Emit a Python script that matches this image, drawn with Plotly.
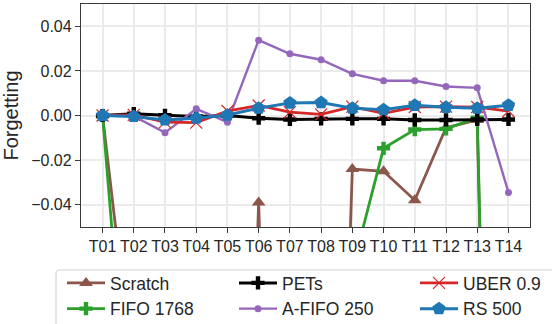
import plotly.graph_objects as go

tasks = ["T01", "T02", "T03", "T04", "T05", "T06", "T07", "T08", "T09", "T10", "T11", "T12", "T13", "T14"]

scratch = [0.0, -0.12, -0.40, -0.45, -0.45, -0.039, -0.50, -0.45, -0.024, -0.025, -0.038, -0.0055, -0.002, -0.60]
fifo_1768 = [0.0, -0.17, -0.25, -0.30, -0.28, -0.30, -0.26, -0.20, -0.069, -0.0147, -0.0063, -0.006, -0.001, -0.57]
pets = [0.0, 0.0008, 0.0001, -0.0004, 0.0, -0.0012, -0.0018, -0.0015, -0.0015, -0.0015, -0.002, -0.002, -0.0018, -0.0018]
afifo_250 = [0.0, -0.0003, -0.0077, 0.003, -0.003, 0.0338, 0.0277, 0.025, 0.0187, 0.0156, 0.0156, 0.013, 0.0124, -0.0345]
uber_09 = [0.0, 0.0003, -0.003, -0.0032, 0.002, 0.0045, 0.0015, 0.0005, 0.004, 0.001, 0.0038, 0.004, 0.0038, 0.002]
rs_500 = [0.0, -0.0004, -0.002, -0.0012, 0.0002, 0.0033, 0.0056, 0.0058, 0.0033, 0.0026, 0.0046, 0.0037, 0.0033, 0.0046]

BROWN = "#8c564b"
GREEN = "#2ca02c"
PURPLE = "#9467bd"
RED = "#d62728"
BLUE = "#1f77b4"

FONT = "Liberation Sans, Arial, sans-serif"

fig = go.Figure()

# drawing order: Scratch, FIFO, PETs, A-FIFO, UBER, RS
fig.add_trace(go.Scatter(x=tasks, y=scratch, name="Scratch", mode="lines+markers",
                         line=dict(color=BROWN, width=2.8),
                         marker=dict(symbol="triangle-up", size=12, color=BROWN),
                         legend="legend", legendrank=1))
fig.add_trace(go.Scatter(x=tasks, y=fifo_1768, name="FIFO 1768", mode="lines+markers",
                         line=dict(color=GREEN, width=2.8),
                         marker=dict(symbol="cross", size=11, color=GREEN),
                         legend="legend", legendrank=2))
fig.add_trace(go.Scatter(x=tasks, y=pets, name="PETs", mode="lines+markers",
                         line=dict(color="black", width=3),
                         marker=dict(symbol="cross", size=11, color="black"),
                         legend="legend2", legendrank=1))
fig.add_trace(go.Scatter(x=tasks, y=afifo_250, name="A-FIFO 250", mode="lines+markers",
                         line=dict(color=PURPLE, width=2.4),
                         marker=dict(symbol="circle", size=7, color=PURPLE),
                         legend="legend2", legendrank=2))
fig.add_trace(go.Scatter(x=tasks, y=uber_09, name="UBER 0.9", mode="lines+markers",
                         line=dict(color=RED, width=2.8),
                         marker=dict(symbol="x-thin", size=12, color=RED,
                                     line=dict(color=RED, width=1.2)),
                         legend="legend3", legendrank=1))
fig.add_trace(go.Scatter(x=tasks, y=rs_500, name="RS 500", mode="lines+markers",
                         line=dict(color=BLUE, width=3),
                         marker=dict(symbol="pentagon", size=14, color=BLUE),
                         legend="legend3", legendrank=2))

L, R, T, B = 81, 530, 4, 227
W, H = R - L, B - T

def px(x):
    return (x - L) / W

def py(y):
    return (B - y) / H

leg_common = dict(orientation="v", yanchor="top", xanchor="left", bgcolor="rgba(0,0,0,0)",
                  borderwidth=0, font=dict(family=FONT, size=17.5, color="#262626"),
                  itemwidth=38, tracegroupgap=0)
leg_y = py(265)

fig.update_layout(
    width=552, height=324,
    margin=dict(l=L, r=552 - R, t=T, b=324 - B, autoexpand=False),
    paper_bgcolor="white", plot_bgcolor="white",
    font=dict(family=FONT, color="#262626"),
    showlegend=True,
    legend=dict(x=px(62), y=leg_y, **leg_common),
    legend2=dict(x=px(234), y=leg_y, **leg_common),
    legend3=dict(x=px(415), y=leg_y, **leg_common),
    xaxis=dict(type="category", range=[-0.69, 13.69], showgrid=True, gridcolor="#ebebeb",
               gridwidth=1.5, showline=True, linecolor="#3a3a3a", linewidth=1.3, mirror=True,
               ticks="outside", ticklen=5, tickwidth=1.2, tickcolor="#3a3a3a",
               tickfont=dict(family=FONT, size=16, color="#262626"), zeroline=False),
    yaxis=dict(range=[-0.05, 0.05], tickvals=[-0.04, -0.02, 0.0, 0.02, 0.04], tickformat=".2f",
               showgrid=True, gridcolor="#ebebeb", gridwidth=1.5, showline=True,
               linecolor="#3a3a3a", linewidth=1.3, mirror=True, ticks="outside", ticklen=5,
               tickwidth=1.2, tickcolor="#3a3a3a", zeroline=False,
               tickfont=dict(family=FONT, size=16, color="#262626"),
               title=dict(text="Forgetting", font=dict(family=FONT, size=20, color="#262626"),
                          standoff=8)),
)

# legend frame (rounded top-left corner, runs off the right/bottom edge)
x0, xr = px(56), px(600)
yt, yb = py(270), py(345)
dx, dy = 4 / W, 4 / H
fig.add_shape(type="path", xref="paper", yref="paper",
              path=f"M{x0},{yb} L{x0},{yt - dy} Q{x0},{yt} {x0 + dx},{yt} L{xr},{yt}",
              line=dict(color="#d4d4d4", width=1.2))

fig.write_html("out.html", config={"displayModeBar": False},
               post_script="document.body.style.margin='0';document.body.style.overflow='hidden';")
